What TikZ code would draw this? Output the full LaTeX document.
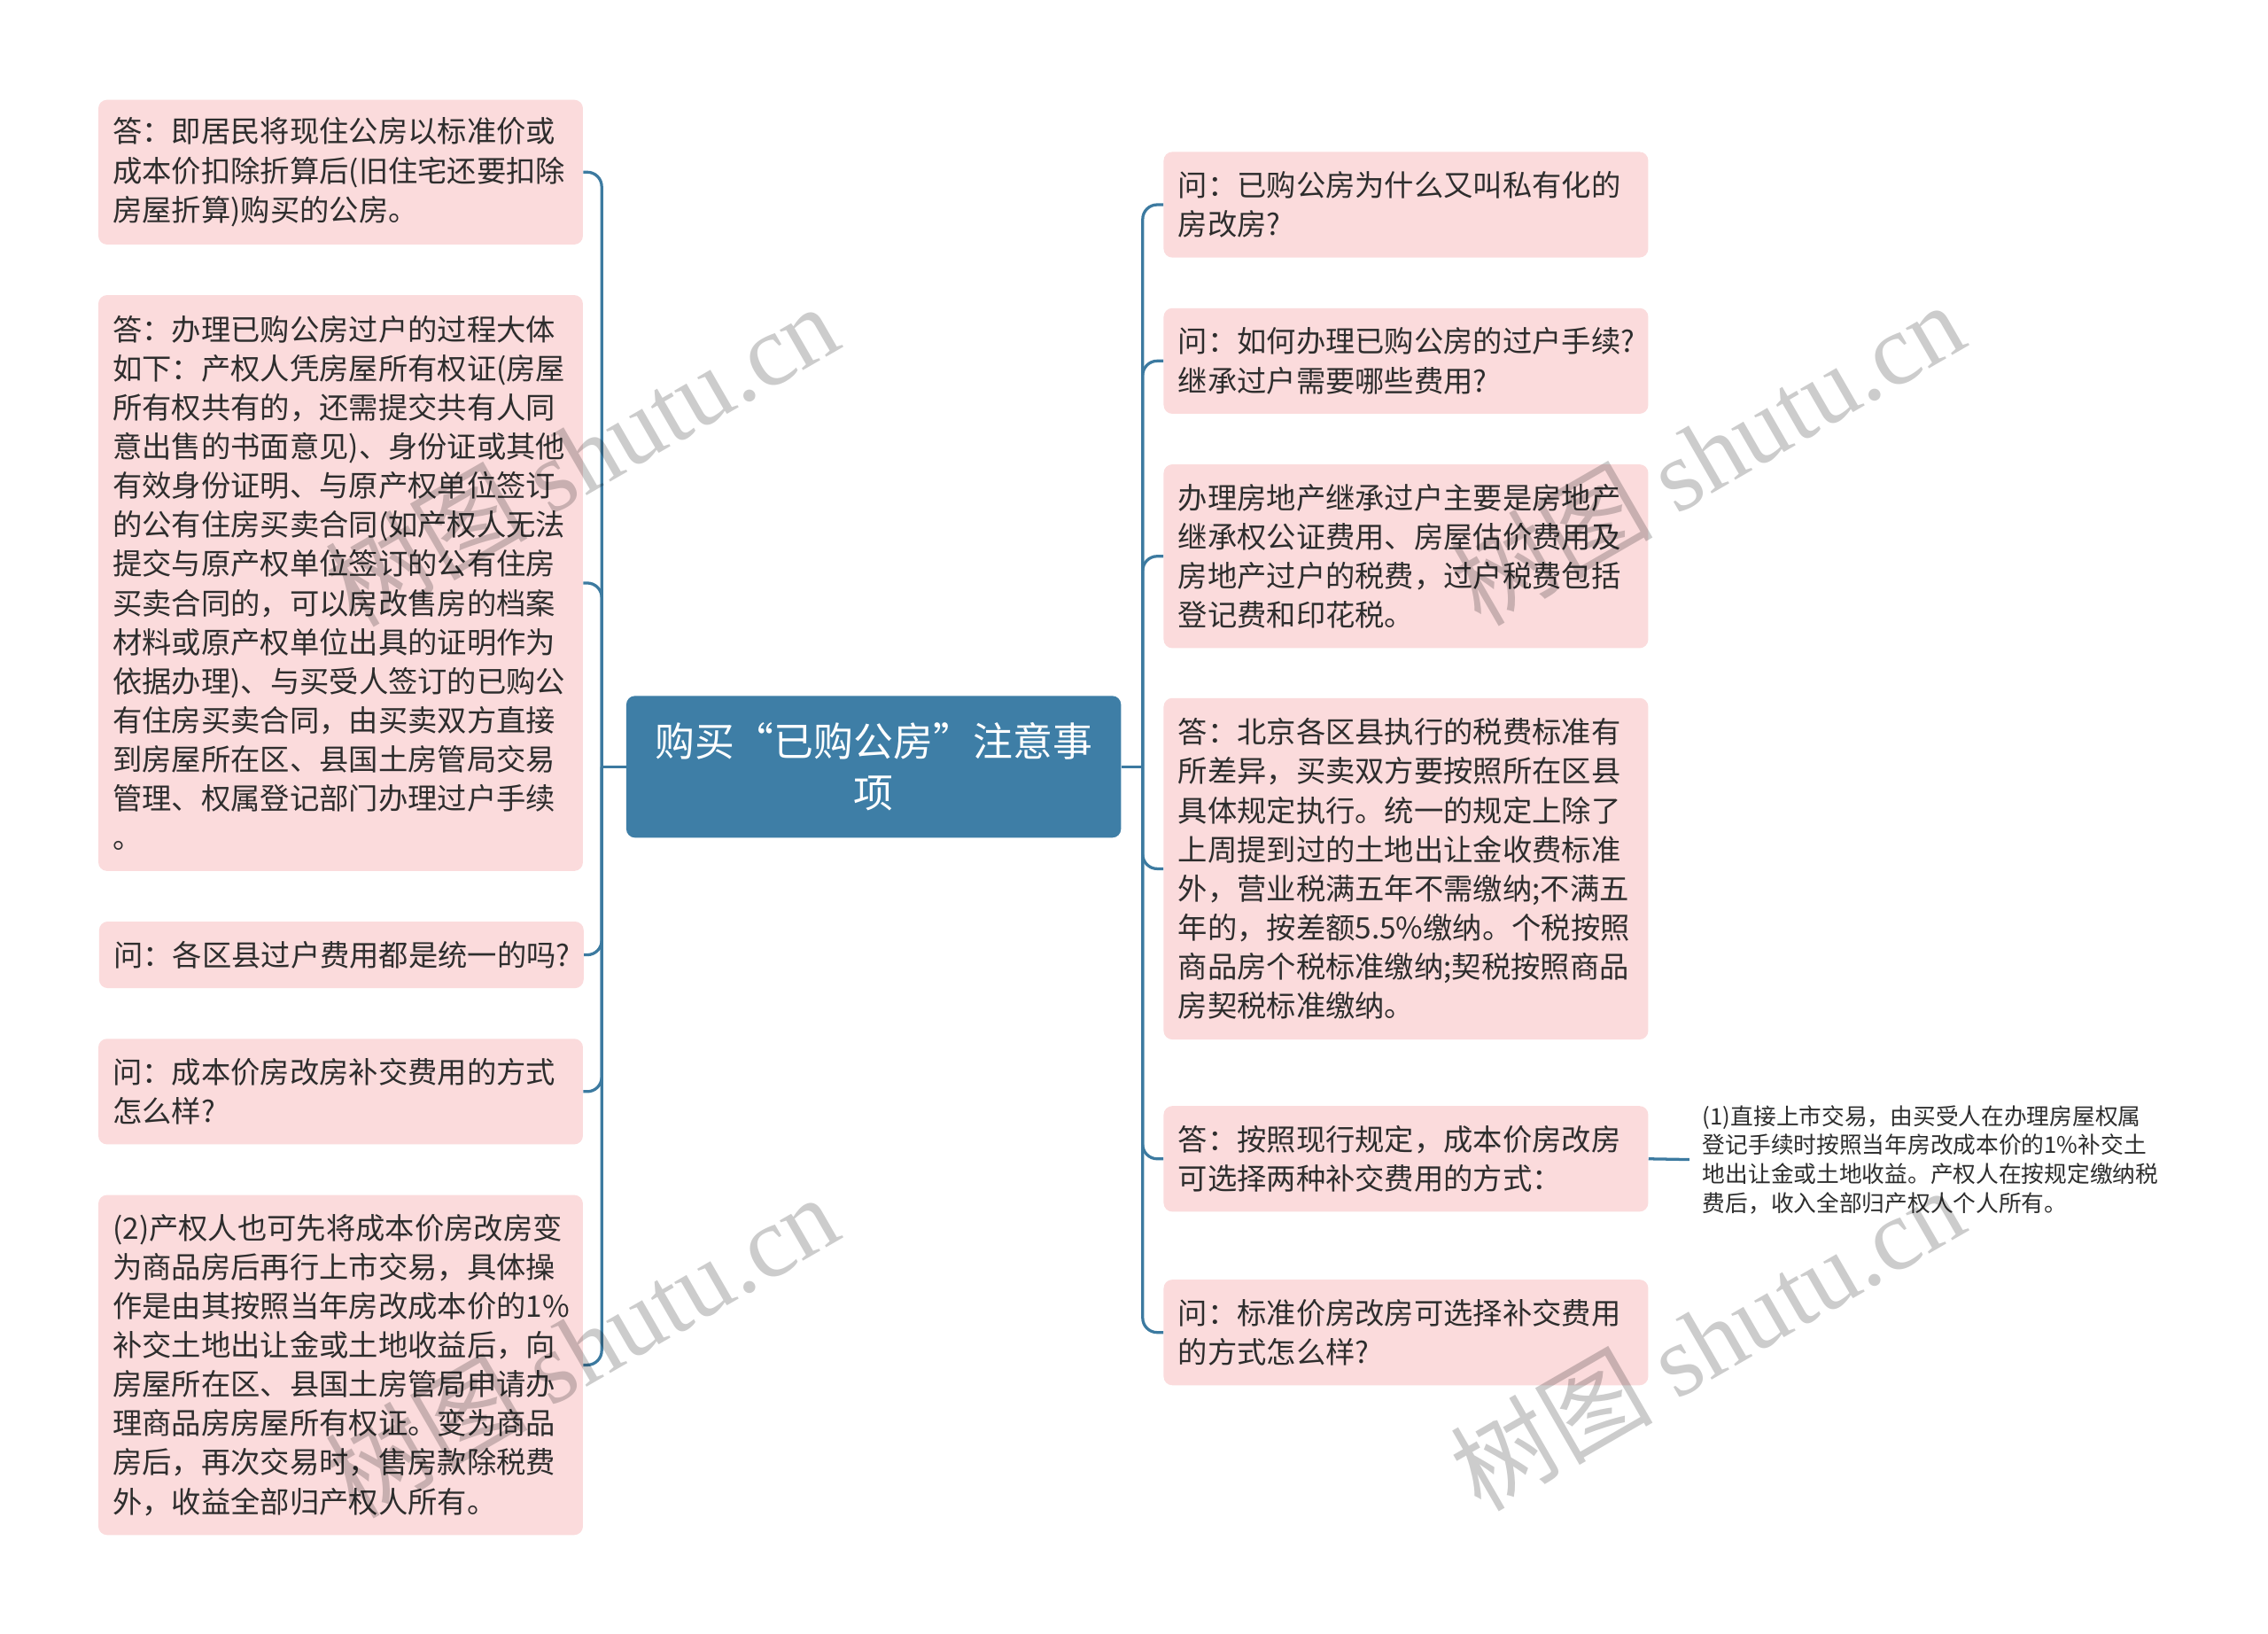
\documentclass[tikz,border=0pt]{standalone}
\usepackage{fontspec}
\setmainfont{Noto Sans CJK SC}
\newfontfamily\wmlatin{Liberation Serif}
\definecolor{boxpink}{RGB}{251,219,220}
\definecolor{mainblue}{RGB}{62,126,166}
\definecolor{linkblue}{RGB}{60,122,160}
\definecolor{txt}{RGB}{45,45,45}
\begin{document}
\begin{tikzpicture}[x=1pt,y=-1pt,
  leaf/.style={fill=boxpink, rounded corners=6pt, inner xsep=10pt, inner ysep=0pt,
    text width=315pt, align=left, text=txt, anchor=center,
    font=\fontsize{20.4pt}{27pt}\selectfont},
  rootbox/.style={fill=mainblue, rounded corners=6pt, minimum width=342pt, minimum height=98pt,
    inner sep=0pt, align=center, text=white, font=\fontsize{27.5pt}{36pt}\selectfont},
  sidetext/.style={anchor=west, inner xsep=9pt, inner ysep=0pt, align=left, text=txt,
    font=\fontsize{15.75pt}{20pt}\selectfont},
  conn/.style={draw=linkblue, line width=2pt},
  wm/.style={text=black, opacity=0.2, rotate=30, font=\fontsize{70pt}{70pt}\selectfont}]
\useasboundingbox (0,0) rectangle (1568,1129);
\fill[white] (0,0) rectangle (1568,1129);

% root
\node[rootbox] (root) at (604,530) {购买\makebox[1em][r]{“}已购公房\makebox[1em][l]{”}注意事\\项};

% left side
\node[leaf, minimum height=100pt] (l1) at (235.5,119) {答：即居民将现住公房以标准价或\\成本价扣除折算后(旧住宅还要扣除\\房屋折算)购买的公房。};
\node[leaf, minimum height=398pt] (l2) at (235.5,403) {答：办理已购公房过户的过程大体\\如下：产权人凭房屋所有权证(房屋\\所有权共有的，还需提交共有人同\\意出售的书面意见)、身份证或其他\\有效身份证明、与原产权单位签订\\的公有住房买卖合同(如产权人无法\\提交与原产权单位签订的公有住房\\买卖合同的，可以房改售房的档案\\材料或原产权单位出具的证明作为\\依据办理)、与买受人签订的已购公\\有住房买卖合同，由买卖双方直接\\到房屋所在区、县国土房管局交易\\管理、权属登记部门办理过户手续\\。};
\node[leaf, minimum height=46pt] (l3) at (236,660) {问：各区县过户费用都是统一的吗?};
\node[leaf, minimum height=73pt] (l4) at (235.5,754.5) {问：成本价房改房补交费用的方式\\怎么样?};
\node[leaf, minimum height=235pt] (l5) at (235.5,943.5) {(2)产权人也可先将成本价房改房变\\为商品房后再行上市交易，具体操\\作是由其按照当年房改成本价的1\%\\补交土地出让金或土地收益后，向\\房屋所在区、县国土房管局申请办\\理商品房房屋所有权证。变为商品\\房后，再次交易时，售房款除税费\\外，收益全部归产权人所有。};

% right side
\node[leaf, minimum height=73pt] (r1) at (972,141.5) {问：已购公房为什么又叫私有化的\\房改房?};
\node[leaf, minimum height=73pt] (r2) at (972,249.5) {问：如何办理已购公房的过户手续?\\继承过户需要哪些费用?};
\node[leaf, minimum height=127pt] (r3) at (972,384.5) {办理房地产继承过户主要是房地产\\继承权公证费用、房屋估价费用及\\房地产过户的税费，过户税费包括\\登记费和印花税。};
\node[leaf, minimum height=236pt] (r4) at (972,600.5) {答：北京各区县执行的税费标准有\\所差异，买卖双方要按照所在区县\\具体规定执行。统一的规定上除了\\上周提到过的土地出让金收费标准\\外，营业税满五年不需缴纳;不满五\\年的，按差额5.5\%缴纳。个税按照\\商品房个税标准缴纳;契税按照商品\\房契税标准缴纳。};
\node[leaf, minimum height=73pt] (r5) at (972,801) {答：按照现行规定，成本价房改房\\可选择两种补交费用的方式：};
\node[leaf, minimum height=73pt] (r6) at (972,921) {问：标准价房改房可选择补交费用\\的方式怎么样?};

\node[sidetext] (side) at (1168,801.5) {(1)直接上市交易，由买受人在办理房屋权属\\登记手续时按照当年房改成本价的1\%补交土\\地出让金或土地收益。产权人在按规定缴纳税\\费后，收入全部归产权人个人所有。};

% connectors
\coordinate (jl) at (416,530);
\coordinate (jr) at (790,530);
\draw[conn] (root.west) -- (jl);
\draw[conn] (root.east) -- (jr);
\foreach \n in {l1,l2,l3,l4,l5}{\draw[conn, rounded corners=10pt] (jl) |- (\n.east);}
\foreach \n in {r1,r2,r3,r4,r5,r6}{\draw[conn, rounded corners=10pt] (jr) |- (\n.west);}
\draw[conn] (r5.east) -- (side.west);

% watermarks
\node[wm] (wm1) at (402,314) {树图 {\wmlatin shutu.cn}};
\node[wm] (wm2) at (1180,313) {树图 {\wmlatin shutu.cn}};
\node[wm] (wm3) at (402,930) {树图 {\wmlatin shutu.cn}};
\node[wm] (wm4) at (1180,925) {树图 {\wmlatin shutu.cn}};
\end{tikzpicture}
\end{document}
